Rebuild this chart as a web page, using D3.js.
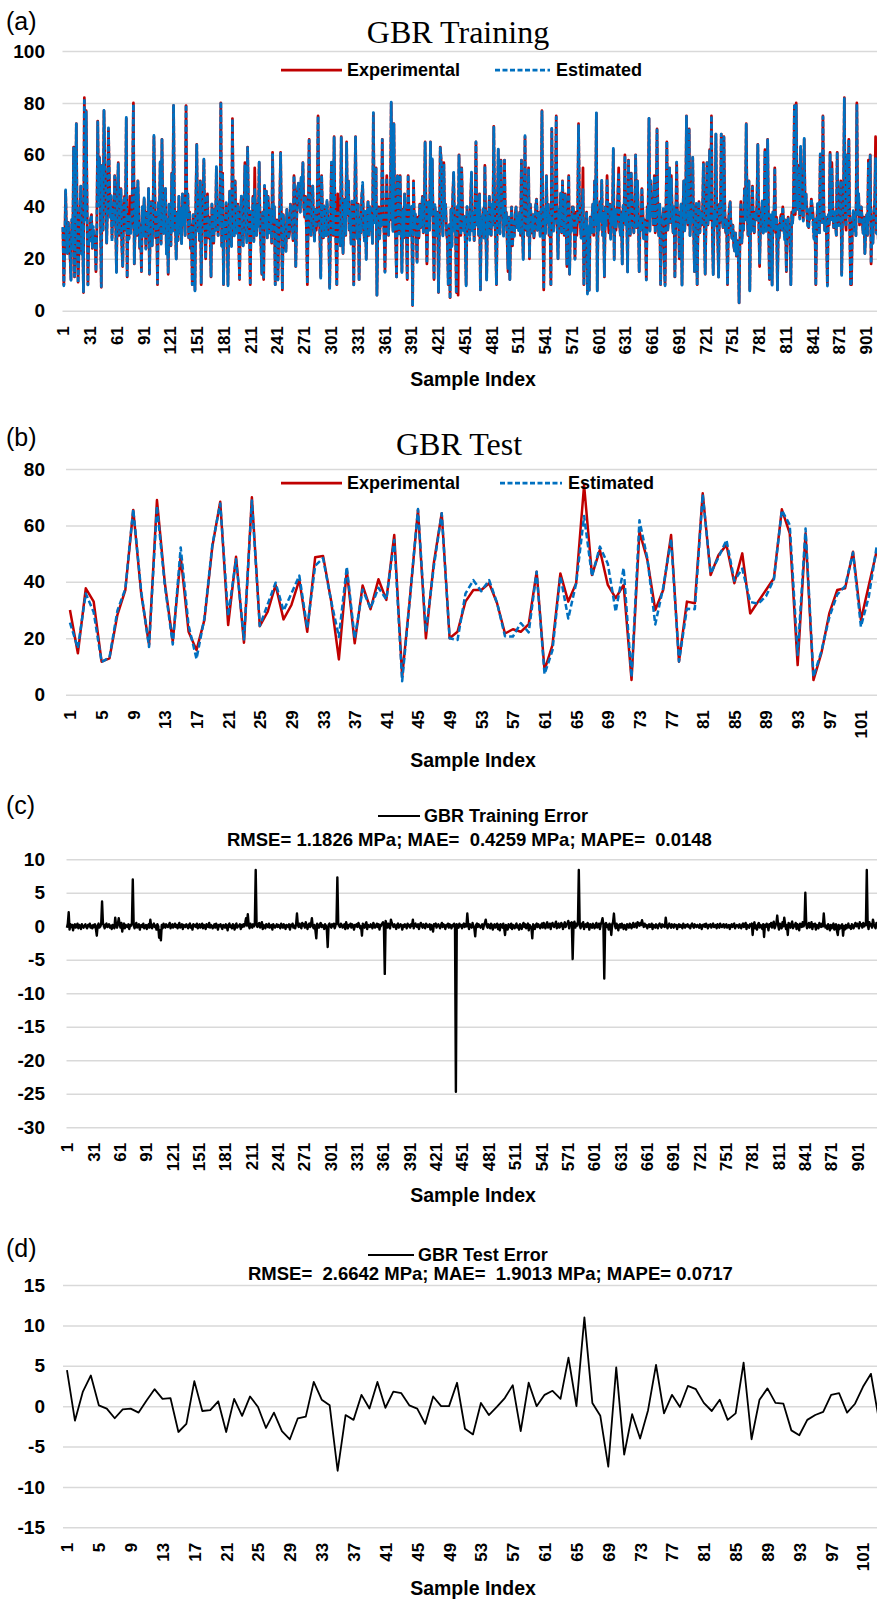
<!DOCTYPE html>
<html>
<head>
<meta charset="utf-8">
<script src="https://cdn.jsdelivr.net/npm/d3@7"></script>
<style>
  body { margin: 0; background: #fff; }
  svg { display: block; }
</style>
</head>
<body>
<svg id="fig" width="877" height="1600"></svg>
<script>
// ---- GBR training set: measured strength (MPa), 927 samples ----
const trainExperimental = [
  32,10,25,46,30,22,34,28,21,12, 35,25,63,13,30,72,29,11,24,38, 48,22,33,7,82,35,77,42,10,30,
  27,35,37,24,31,26,29,15,32,73, 44,59,38,9,56,31,77,55,47,26, 41,70,52,36,44,28,39,33,52,37,
  15,43,57,29,36,47,25,17,38,44, 31,74,13,37,28,44,30,35,49,80, 18,33,47,29,50,38,24,33,15,40,
  29,43,35,24,38,31,47,14,33,42, 25,36,67,45,28,37,10,40,33,57, 26,66,38,30,42,47,22,35,14,41,
  36,25,53,31,79,40,34,20,38,27, 44,30,39,26,45,33,41,29,79,36, 45,28,38,24,33,10,37,31,8,42,
  64,31,44,27,50,10,35,40,58,33, 20,38,45,28,36,30,13,41,34,26, 39,31,55,37,29,42,33,80,25,53,
  10,35,28,41,33,10,37,46,30,25, 74,38,29,50,34,30,41,27,12,36, 44,31,25,39,57,33,28,63,40,35,
  10,38,30,44,27,55,36,29,41,33, 57,31,25,14,38,12,48,33,46,28, 44,35,30,39,26,61,34,40,10,32,
  35,12,29,40,61,33,8,37,30,26, 23,39,32,28,30,41,38,34,27,52, 44,17,36,47,49,43,38,51,45,57,
  40,36,44,31,10,38,66,35,29,42, 48,33,27,39,31,36,75,41,30,13, 52,37,28,40,34,29,42,35,30,9,
  33,57,41,29,67,36,27,10,45,38, 31,25,67,40,22,34,43,29,65,37, 50,31,38,26,42,33,10,39,67,35,
  28,41,12,36,30,44,48,33,27,38, 20,35,42,29,40,31,37,26,76,39, 34,55,6,31,40,28,36,33,66,38,
  30,15,34,52,37,29,43,35,80,41, 31,72,36,27,13,52,38,30,52,33, 15,39,28,45,34,31,12,52,36,29,
  35,40,2,50,33,37,29,19,36,28, 41,32,38,44,30,35,65,39,18,34, 42,31,65,37,58,33,12,40,36,29,
  38,7,31,63,58,34,29,57,36,41, 30,27,10,33,5,39,25,44,53,31, 36,7,40,6,60,33,29,55,38,31,
  36,28,10,40,33,37,29,42,53,31, 38,27,35,65,33,40,29,45,8,36, 31,39,28,56,34,12,38,30,44,35,
  29,41,33,71,36,28,10,39,62,34, 30,58,37,41,29,58,33,38,27,15, 36,12,31,40,25,34,29,37,40,32,
  36,31,38,29,58,33,20,39,67,31, 38,29,55,20,41,35,30,37,28,33, 40,43,31,35,38,29,36,77,33,8,
  39,30,52,34,41,29,37,10,70,38, 31,36,42,75,33,20,39,35,45,30, 50,37,29,45,34,17,38,52,14,36,
  31,40,40,33,20,38,29,36,72,41, 33,28,37,55,10,34,30,38,7,32, 8,36,30,35,41,29,50,33,76,8,
  37,31,42,35,50,29,38,13,40,33, 52,36,30,41,28,37,34,62,20,39, 31,36,44,55,33,29,38,18,40,35,
  60,33,38,15,58,36,29,53,41,34, 30,37,60,32,50,38,15,36,31,47, 39,28,35,33,12,40,36,74,31,50,
  37,42,33,52,30,38,70,35,29,41, 10,36,33,39,20,10,38,65,31,36, 55,34,52,37,30,40,13,35,57,33,
  38,20,34,41,10,37,50,31,36,75, 40,33,70,29,38,35,59,32,15,37, 41,10,34,42,30,38,33,36,57,31,
  14,36,57,33,40,62,35,75,31,14, 38,33,68,36,29,13,41,34,68,37, 32,67,38,30,35,10,33,39,42,31,
  28,33,25,23,30,21,27,24,3,29, 42,26,33,31,47,35,72,38,29,50, 8,36,31,48,33,30,38,35,41,64,
  36,17,33,38,42,30,35,62,31,37, 66,34,12,29,36,10,38,33,55,30, 36,8,33,28,35,37,31,40,33,29,
  35,15,30,36,28,33,10,38,34,41, 79,37,80,44,39,56,36,63,41,38, 35,66,40,45,37,33,32,39,36,43,
  40,37,28,35,10,33,41,36,30,60, 38,34,75,39,31,36,29,10,37,33, 61,35,57,40,32,38,34,29,61,36,
  33,38,50,14,36,40,82,35,31,60, 37,66,33,10,10,34,38,31,36,29, 80,37,45,33,39,40,35,30,36,22,
  31,37,29,58,35,60,18,33,26,38, 41,67,30,36,28,39,33,41,35,30, 38,44,32,36,29,40,34
];

// ---- GBR training error (experimental - estimated), MPa ----
const trainError = [
  -0.2,0.4,2.1,-0.5,0.3,-0.1,0.2,-0.6,0.1,0.3, -0.2,0.0,0.4,-0.3,0.2,0.1,-0.4,0.3,0.0,-0.2, 0.1,0.3,-0.1,-0.3,0.2,0.0,0.4,-0.2,0.1,-0.3,
  0.2,-0.1,0.3,-0.4,-1.4,0.1,0.4,-0.2,0.0,0.3, 3.7,0.5,0.1,-0.3,0.2,0.4,-0.1,0.0,0.3,-0.2, 0.1,-0.4,0.2,0.0,-0.3,1.3,0.1,-0.2,0.3,1.2,
  0.3,-0.2,0.5,-0.8,0.1,0.4,-0.3,0.2,0.0,-0.1, 0.3,-0.4,0.2,0.1,0.4,7.0,0.2,-0.3,0.1,0.5, -0.2,0.0,0.3,-0.5,0.1,0.2,-0.1,0.4,-0.3,0.0,
  0.2,-0.4,0.1,0.3,-0.2,1.0,0.0,-0.3,0.2,0.4, -0.1,0.1,-0.5,0.3,0.0,-1.7,-0.6,-2.1,0.2,-0.3, 0.4,0.1,-0.2,0.3,0.0,-0.1,0.2,0.5,-0.3,0.1,
  0.3,-0.2,0.0,0.4,-0.1,0.2,-0.3,0.1,0.5,-0.2, 0.0,0.3,-0.4,0.2,0.1,-0.1,0.3,0.0,-0.3,0.2, 0.4,-0.2,0.1,-0.5,0.3,0.0,0.2,-0.1,0.4,-0.3,
  0.1,0.3,-0.2,0.0,0.4,-0.3,0.2,0.1,-0.4,0.3, 0.0,-0.1,0.5,-0.2,0.2,0.1,-0.3,0.0,0.3,-0.2, 0.4,0.1,-0.5,0.2,0.0,0.3,-0.1,-0.4,0.2,0.1,
  -0.2,0.3,0.0,-0.6,0.2,0.4,-0.1,0.1,-0.3,0.3, 0.0,-0.5,0.2,0.4,-0.2,0.1,0.0,0.3,-0.4,0.2, -0.1,0.3,0.0,0.5,1.2,0.1,1.8,0.2,-0.3,0.4,
  0.1,-0.2,0.3,0.0,0.4,8.4,0.2,-0.1,0.3,0.5, -0.2,0.1,0.6,-0.4,0.2,0.0,-0.3,0.3,0.1,-0.1, 0.4,-0.2,0.0,0.2,-0.5,0.3,0.1,-0.2,0.0,0.3,
  -0.1,0.2,0.0,-0.3,0.4,0.1,-0.2,0.3,0.0,-0.4, 0.2,0.1,-0.1,0.3,-0.5,0.2,0.0,0.4,-0.2,0.1, -0.3,0.3,1.9,0.2,-0.1,0.4,0.0,-0.3,0.5,0.1,
  0.3,-0.2,0.6,0.1,-0.4,0.2,0.4,-0.1,0.3,1.2, 0.0,-0.3,0.2,-0.6,-1.8,0.4,0.1,-0.2,0.3,0.5, -0.1,0.2,0.0,-0.4,0.3,0.1,-0.5,-3.1,0.2,0.4,
  0.1,-0.2,0.3,0.0,0.4,-0.3,0.2,0.5,7.3,0.3, 0.1,-0.1,0.4,0.2,-0.2,0.0,0.3,-0.4,0.6,0.1, -0.3,0.2,0.0,0.4,-0.2,0.3,0.1,-0.5,0.2,0.0,
  0.3,-0.1,0.5,0.2,-0.3,0.0,-1.4,0.4,0.1,-0.2, 0.3,0.6,-0.4,0.2,0.0,-0.1,0.3,0.1,-0.3,0.5, 0.2,-0.2,0.0,0.4,-0.1,0.3,-0.5,0.2,0.1,0.4,
  0.6,0.2,-7.1,0.8,0.3,-0.2,0.4,0.1,-0.3,1.0, 0.5,0.2,-0.1,0.3,0.0,-0.4,0.2,0.4,-0.2,0.1, 0.3,0.0,-0.5,0.2,-0.1,0.3,0.1,-0.3,0.4,0.0,
  0.2,-0.2,0.3,0.1,1.0,-0.3,0.2,0.4,0.0,-0.1, 0.3,-0.4,0.2,0.5,0.1,-0.2,0.3,0.0,-0.3,0.4, 0.2,-0.1,0.1,0.3,-0.5,0.2,0.0,-0.8,0.3,0.1,
  0.4,-0.2,0.1,0.3,0.0,-0.3,0.2,0.5,-0.1,0.3, 0.1,-0.4,0.2,0.0,0.4,-0.2,0.3,0.1,-0.3,0.2, 0.0,0.4,-0.1,-24.7,0.3,0.1,-0.2,0.4,0.0,0.2,
  -0.3,0.2,0.4,-0.1,0.3,0.0,1.9,0.2,-0.4,0.3, 0.1,-0.2,0.5,0.0,-0.3,-1.5,0.2,0.4,-0.1,0.3, 0.1,-0.2,0.0,0.3,-0.4,0.2,0.5,1.0,0.1,-0.2,
  0.3,0.0,-0.3,0.4,0.2,-0.5,0.1,0.3,-0.2,0.0, 0.4,-0.4,0.2,-0.6,0.3,0.1,-0.2,0.4,-0.3,-1.3, 0.2,0.0,-0.5,0.3,0.1,-0.2,0.4,-0.4,0.2,0.0,
  -0.3,0.2,0.4,-0.2,0.1,-0.5,0.3,0.0,-0.4,0.2, 0.5,-0.1,0.3,-0.3,0.1,0.4,-0.6,0.2,0.0,-0.2, -1.8,0.3,0.1,-0.4,0.2,0.4,-0.1,0.3,0.0,-0.3,
  0.2,0.4,-0.2,0.5,0.1,-0.3,0.3,0.6,-0.2,0.0, 0.4,-0.4,0.2,0.5,0.1,-0.1,0.3,0.7,-0.3,0.2, 0.4,-0.2,0.0,0.5,0.3,-0.4,0.2,0.6,-0.1,0.3,
  0.4,0.8,-0.3,0.5,0.2,0.6,-4.9,0.3,0.7,-0.2, 0.4,0.1,0.5,8.4,0.2,-0.3,0.4,0.0,0.6,-0.4, 0.2,0.3,-0.1,0.5,0.1,-0.5,0.3,0.0,-0.2,0.4,
  0.1,-0.3,0.2,0.5,-0.2,0.0,0.4,-0.4,0.3,0.6, 1.2,0.2,-7.8,0.3,0.5,-0.1,0.2,-0.5,0.4,0.1, -1.3,0.3,0.6,1.9,0.2,-0.3,0.4,0.0,-0.6,0.2,
  0.3,-0.2,0.4,0.1,-0.4,0.2,0.0,-0.5,0.3,0.1, -0.2,0.4,0.2,-0.3,0.1,0.5,-0.1,0.2,0.4,-0.2, 0.6,0.3,0.1,0.5,0.2,0.9,0.3,-0.1,0.4,0.0,
  0.2,-0.3,0.1,0.3,-0.1,0.0,0.4,-0.4,0.2,0.1, -0.2,0.3,0.0,-0.3,0.2,0.4,0.1,-0.2,0.3,0.0, 0.2,-0.1,1.3,0.2,-0.3,0.1,0.4,0.0,-0.2,0.3,
  0.1,-0.2,0.3,0.0,0.2,-0.4,0.1,0.3,-0.1,0.2, 0.0,-0.3,0.4,0.1,-0.2,0.2,0.0,0.3,-0.1,0.1, -0.3,0.2,0.4,0.0,-0.2,0.3,0.1,-0.1,0.2,0.0,
  -0.2,0.3,0.1,-0.4,0.2,0.0,0.3,-0.1,0.4,0.1, -0.3,0.2,0.0,0.3,-0.2,0.1,0.4,-0.1,0.0,0.2, -0.3,0.3,0.1,-0.2,0.4,0.0,-0.1,0.2,0.3,-0.2,
  0.1,0.3,-0.2,0.0,0.2,-0.4,0.1,0.3,-0.1,0.2, 0.4,-0.3,0.0,0.2,0.1,-0.2,0.3,0.0,-0.3,0.2, 0.4,-0.1,0.1,0.5,-0.4,0.2,0.0,-0.2,0.3,0.1,
  0.4,-1.3,0.2,0.6,-0.3,0.1,-0.5,0.3,0.5,-0.2, 0.2,0.0,-0.4,0.3,-1.6,0.2,-0.1,0.4,0.1,-0.6, 0.3,0.0,0.5,-0.2,0.2,0.7,-0.3,0.1,0.4,1.6,
  0.2,-0.5,0.4,0.1,-0.3,0.6,0.0,1.3,0.3,-0.4, 0.2,-1.3,0.5,0.1,-0.2,0.4,0.7,-0.3,0.2,0.0, 0.5,-0.4,0.3,0.1,-0.6,0.4,0.2,-0.1,0.6,0.0,
  0.3,5.0,0.4,-0.3,0.2,0.5,-0.2,0.1,0.6,-0.4, 0.3,0.0,0.4,-0.5,0.2,0.1,-0.3,0.5,0.2,-0.1, 0.4,0.0,1.9,0.3,-0.2,0.1,-0.4,0.3,0.0,-0.6,
  0.2,-0.3,0.1,0.4,-0.5,0.0,0.3,-0.7,-1.3,0.2, -0.4,0.1,-0.2,0.3,-1.4,0.0,-0.5,0.2,-0.3,0.1, 0.4,-0.2,0.0,-0.4,0.3,0.1,-0.3,0.2,0.5,0.0,
  0.4,0.2,-0.3,0.6,0.1,0.3,-0.2,0.5,0.0,0.4, 0.2,8.4,0.3,-0.4,0.6,0.1,0.3,-0.2,1.0,0.4, 0.0,-0.3,0.5,0.2,-0.1,0.3,0.4
];

// ---- GBR test set: measured strength (MPa), 103 samples ----
const testExperimental = [
  30.0,14.7,37.7,33.0,11.7,12.9,28.3,37.1,65.5,36.0,
  17.6,69.0,39.5,18.8,49.0,22.3,15.8,26.5,52.5,68.4,
  24.7,48.9,18.4,70.0,24.3,29.4,38.9,26.7,31.8,40.7,
  22.3,48.7,49.2,33.6,12.5,44.2,18.2,38.7,30.3,40.9,
  33.6,56.6,6.4,34.8,65.5,20.0,46.6,64.3,20.0,22.3,
  33.0,37.1,37.1,39.5,32.4,21.7,23.2,22.3,25.0,43.6,
  8.7,17.6,43.0,33.0,39.5,74.3,42.4,51.3,38.9,34.2,
  38.9,5.2,57.8,47.8,30.0,37.1,56.6,11.7,33.0,32.4,
  71.4,42.4,49.5,53.1,39.5,50.1,28.8,33.0,37.1,41.3,
  65.7,57.2,10.5,57.2,5.2,14.7,28.8,37.1,37.7,50.7,
  26.5,38.8,51.0
];

// ---- GBR test error (experimental - estimated), MPa ----
const testError = [
  4.45,-1.8,1.8,3.8,0.1,-0.3,-1.5,-0.4,-0.3,-0.8,
  0.7,2.1,0.9,1.0,-3.2,-2.2,3.1,-0.6,-0.5,0.6,
  -3.2,0.9,-1.2,1.2,-0.1,-2.7,-0.8,-3.1,-4.1,-1.5,
  -1.3,3.0,0.8,0.1,-8.0,-1.1,-1.7,1.4,-0.3,3.0,
  -0.2,1.8,1.6,0.1,-0.3,-2.2,1.2,0.0,0.0,2.9,
  -2.8,-3.5,0.4,-1.1,-0.1,1.0,2.6,-3.1,2.9,0.0,
  1.4,1.9,0.9,6.0,0.0,11.0,0.4,-1.2,-7.5,4.8,
  -6.0,-1.0,-4.0,-0.5,5.1,-0.9,1.4,-0.1,2.5,2.1,
  0.4,-0.6,0.8,-1.7,-0.9,5.4,-4.1,0.8,2.2,0.4,
  0.3,-3.0,-3.6,-1.7,-1.1,-0.7,1.4,1.6,-0.8,0.3,
  2.4,4.0,-1.7
];

// model output = measured - error
const trainEstimated = trainExperimental.map((v, i) => +(v - trainError[i]).toFixed(2));
const testEstimated = testExperimental.map((v, i) => +(v - testError[i]).toFixed(2));

// axis tick labels
const trainIndexTicks = [1,31,61,91,121,151,181,211,241,271,301,331,361,391,421,451,481,511,541,571,601,631,661,691,721,751,781,811,841,871,901];
const testIndexTicks = [1,5,9,13,17,21,25,29,33,37,41,45,49,53,57,61,65,69,73,77,81,85,89,93,97,101];
const trainValueTicks = [0,20,40,60,80,100];
const testValueTicks = [0,20,40,60,80];
const trainErrorTicks = [-30,-25,-20,-15,-10,-5,0,5,10];
const testErrorTicks = [-15,-10,-5,0,5,10,15];

const W = 877;
const SANS = '"Liberation Sans", Arial, sans-serif';
const SERIF = '"Liberation Serif", "Times New Roman", serif';
const RED = '#C00000', BLUE = '#0070C0';
const svg = d3.select('#fig');
svg.append('rect').attr('width', W).attr('height', 1600).attr('fill', '#fff');

function panel(cfg) {
  const g = svg.append('g');
  const x = d3.scaleLinear().domain([0.5, cfg.n + 0.5]).range([cfg.left, cfg.right]);
  const y = d3.scaleLinear().domain(cfg.yDomain).range([cfg.bottom, cfg.top]);

  // horizontal gridlines + value labels
  g.append('g')
    .attr('transform', `translate(${cfg.left},0)`)
    .call(d3.axisLeft(y).tickValues(cfg.yTicks).tickSize(-(W - cfg.left))
      .tickPadding(cfg.left - 45).tickFormat(d => String(d)))
    .call(a => a.select('.domain').remove())
    .call(a => a.selectAll('line').attr('stroke', '#d9d9d9').attr('stroke-width', 1.5))
    .call(a => a.selectAll('text').attr('font-family', SANS).attr('font-size', 19)
      .attr('font-weight', 'bold').attr('fill', '#000'));

  // rotated sample-index labels
  g.append('g')
    .attr('transform', `translate(0,${cfg.bottom})`)
    .call(d3.axisBottom(x).tickValues(cfg.xTicks).tickSize(0).tickFormat(d => String(d)))
    .call(a => a.select('.domain').remove())
    .call(a => a.selectAll('text')
      .attr('transform', 'rotate(-90)').attr('text-anchor', 'end')
      .attr('x', -15.5).attr('y', 0).attr('dy', '0.35em')
      .attr('font-family', SANS).attr('font-size', 17).attr('font-weight', 'bold').attr('fill', '#000'));

  svg.append('text').attr('x', 473).attr('y', cfg.xTitleY).attr('dy', '0.35em')
    .attr('text-anchor', 'middle').attr('font-family', SANS).attr('font-size', 19.5)
    .attr('font-weight', 'bold').text('Sample Index');

  svg.append('text').attr('x', 6).attr('y', cfg.tagY).attr('dy', '0.32em')
    .attr('font-family', SANS).attr('font-size', 25).text(cfg.tag);

  const line = d3.line().x((d, i) => x(i + 1)).y(d => y(d)).curve(d3.curveLinear);
  return { g, x, y, line };
}

function seriesLegend(yPos, redX1, redX2, blueX1, blueX2, dash) {
  svg.append('line').attr('x1', redX1).attr('x2', redX2).attr('y1', yPos).attr('y2', yPos)
    .attr('stroke', RED).attr('stroke-width', 2.75);
  svg.append('text').attr('x', redX2 + 5).attr('y', yPos).attr('dy', '0.35em')
    .attr('font-family', SANS).attr('font-size', 18).attr('font-weight', 'bold').text('Experimental');
  svg.append('line').attr('x1', blueX1).attr('x2', blueX2).attr('y1', yPos).attr('y2', yPos)
    .attr('stroke', BLUE).attr('stroke-width', 2.75).attr('stroke-dasharray', dash);
  svg.append('text').attr('x', blueX2 + 6).attr('y', yPos).attr('dy', '0.35em')
    .attr('font-family', SANS).attr('font-size', 18).attr('font-weight', 'bold').text('Estimated');
}

function errorLegend(lineX1, lineX2, yPos, label, statsX, statsY, stats) {
  svg.append('line').attr('x1', lineX1).attr('x2', lineX2).attr('y1', yPos).attr('y2', yPos)
    .attr('stroke', '#000').attr('stroke-width', 2);
  svg.append('text').attr('x', lineX2 + 4).attr('y', yPos).attr('dy', '0.35em')
    .attr('font-family', SANS).attr('font-size', 18).attr('font-weight', 'bold').text(label);
  svg.append('text').attr('x', statsX).attr('y', statsY).attr('dy', '0.35em')
    .attr('font-family', SANS).attr('font-size', 18.5).attr('font-weight', 'bold')
    .attr('xml:space', 'preserve').style('white-space', 'pre').text(stats);
}

// ---------- (a) training: measured vs estimated ----------
{
  const p = panel({ n: trainExperimental.length, left: 62.5, right: 889.4, top: 51, bottom: 310.7,
    yDomain: [0, 100], yTicks: trainValueTicks, xTicks: trainIndexTicks, xTitleY: 379, tag: '(a)', tagY: 22 });
  p.g.append('path').datum(trainExperimental).attr('d', p.line).attr('fill', 'none')
    .attr('stroke', RED).attr('stroke-width', 2.75).attr('stroke-linejoin', 'round');
  p.g.append('path').datum(trainEstimated).attr('d', p.line).attr('fill', 'none')
    .attr('stroke', BLUE).attr('stroke-width', 2.75).attr('stroke-dasharray', '5,2').attr('stroke-linejoin', 'round');
  svg.append('text').attr('x', 458).attr('y', 43).attr('text-anchor', 'middle')
    .attr('font-family', SERIF).attr('font-size', 32).text('GBR Training');
  seriesLegend(70, 281, 342, 495, 550, '5,2.5');
}

// ---------- (b) test: measured vs estimated ----------
{
  const p = panel({ n: testExperimental.length, left: 66, right: 880.7, top: 469, bottom: 694.7,
    yDomain: [0, 80], yTicks: testValueTicks, xTicks: testIndexTicks, xTitleY: 760, tag: '(b)', tagY: 438 });
  p.g.append('path').datum(testExperimental).attr('d', p.line).attr('fill', 'none')
    .attr('stroke', RED).attr('stroke-width', 2.5).attr('stroke-linejoin', 'round');
  p.g.append('path').datum(testEstimated).attr('d', p.line).attr('fill', 'none')
    .attr('stroke', BLUE).attr('stroke-width', 2.5).attr('stroke-dasharray', '6,3').attr('stroke-linejoin', 'round');
  svg.append('text').attr('x', 459).attr('y', 455).attr('text-anchor', 'middle')
    .attr('font-family', SERIF).attr('font-size', 32).text('GBR Test');
  seriesLegend(483, 281, 342, 500, 562, '5,2.5');
}

// ---------- (c) training error ----------
{
  const p = panel({ n: trainError.length, left: 66.5, right: 880.4, top: 859.3, bottom: 1127.3,
    yDomain: [-30, 10], yTicks: trainErrorTicks, xTicks: trainIndexTicks, xTitleY: 1195, tag: '(c)', tagY: 806 });
  p.g.append('path').datum(trainError).attr('d', p.line).attr('fill', 'none')
    .attr('stroke', '#000').attr('stroke-width', 2.4).attr('stroke-linejoin', 'round');
  errorLegend(378, 420, 816, 'GBR Training Error', 227, 840,
    'RMSE= 1.1826 MPa; MAE=  0.4259 MPa; MAPE=  0.0148');
}

// ---------- (d) test error ----------
{
  const p = panel({ n: testError.length, left: 63, right: 882.9, top: 1285, bottom: 1527.3,
    yDomain: [-15, 15], yTicks: testErrorTicks, xTicks: testIndexTicks, xTitleY: 1588, tag: '(d)', tagY: 1249 });
  p.g.append('path').datum(testError).attr('d', p.line).attr('fill', 'none')
    .attr('stroke', '#000').attr('stroke-width', 1.8).attr('stroke-linejoin', 'round');
  errorLegend(368, 414, 1255, 'GBR Test Error', 248, 1274,
    'RMSE=  2.6642 MPa; MAE=  1.9013 MPa; MAPE= 0.0717');
}
</script>
</body>
</html>
